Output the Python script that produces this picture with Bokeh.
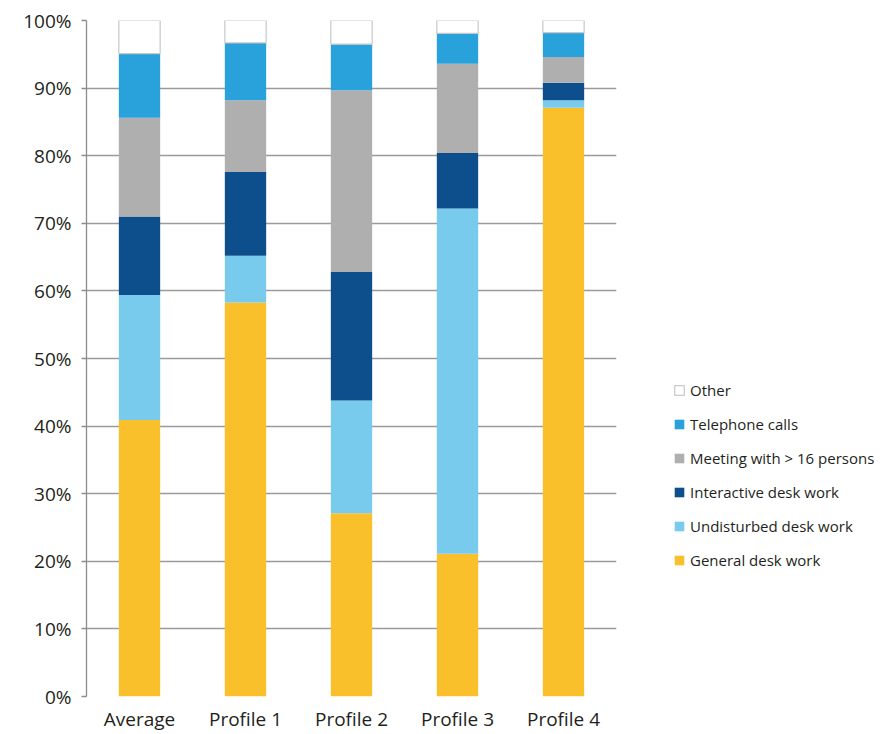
from bokeh.plotting import figure
from bokeh.layouts import row
from bokeh.models import (ColumnDataSource, Legend, LegendItem, FixedTicker,
                          CustomJSTickFormatter, Range1d)
from bokeh.embed import file_html
from bokeh.resources import INLINE

# Share of working time per activity (%), per user profile
profiles = ["Average", "Profile 1", "Profile 2", "Profile 3", "Profile 4"]
general_desk_work = [40.9, 58.3, 27.1, 21.1, 87.1]
undisturbed_desk_work = [18.5, 6.9, 16.7, 51.1, 1.1]
interactive_desk_work = [11.6, 12.4, 19.0, 8.2, 2.6]
meeting_16_plus = [14.6, 10.6, 26.9, 13.2, 3.8]
telephone_calls = [9.5, 8.5, 6.8, 4.5, 3.6]
other = [4.9, 3.3, 3.5, 1.9, 1.8]

activities = ["General desk work", "Undisturbed desk work", "Interactive desk work",
              "Meeting with > 16 persons", "Telephone calls", "Other"]
keys = ["general", "undisturbed", "interactive", "meeting", "telephone", "other"]
colors = ["#FAC02C", "#79CBEE", "#0C4F8C", "#AFAFAF", "#29A1DB", "#FFFFFF"]
outlines = [None] * 5 + ["#C8C8C8"]

source = ColumnDataSource(dict(
    profile=profiles,
    general=general_desk_work,
    undisturbed=undisturbed_desk_work,
    interactive=interactive_desk_work,
    meeting=meeting_16_plus,
    telephone=telephone_calls,
    other=other,
))

FONT = "Open Sans"
TEXT = "#231F20"

p = figure(x_range=profiles, y_range=Range1d(0, 100),
           width=630, height=734, output_backend="svg", toolbar_location=None,
           min_border_left=86, min_border_right=14, min_border_top=20,
           min_border_bottom=37, outline_line_color=None)

p.vbar_stack(keys, x="profile", width=0.39, source=source,
             color=colors, line_color=outlines, line_width=1.2)

# Grid
ticks = list(range(0, 101, 10))
p.xgrid.grid_line_color = None
p.ygrid.ticker = FixedTicker(ticks=ticks)
p.ygrid.grid_line_color = "#9A9A9A"
p.ygrid.grid_line_width = 1.3

# Y axis
p.yaxis.ticker = FixedTicker(ticks=ticks)
p.yaxis.formatter = CustomJSTickFormatter(code="return tick.toFixed(0) + '%';")
p.yaxis.axis_line_color = "#8C8C8C"
p.yaxis.axis_line_width = 1.3
p.yaxis.major_tick_line_color = "#8C8C8C"
p.yaxis.major_tick_line_width = 1.3
p.yaxis.major_tick_out = 5
p.yaxis.major_tick_in = 0
p.yaxis.minor_tick_line_color = None
p.yaxis.major_label_text_font = FONT
p.yaxis.major_label_text_font_size = "19px"
p.yaxis.major_label_text_color = TEXT
p.yaxis.major_label_standoff = 10

# X axis
p.xaxis.axis_line_color = None
p.xaxis.major_tick_line_color = None
p.xaxis.minor_tick_line_color = None
p.xaxis.major_label_text_font = FONT
p.xaxis.major_label_text_font_size = "19px"
p.xaxis.major_label_text_color = TEXT
p.xaxis.major_label_standoff = 3

# Legend panel: a bare figure holding one swatch renderer per activity
lg = figure(width=264, height=734, output_backend="svg", toolbar_location=None,
            x_range=Range1d(0, 1), y_range=Range1d(0, 1),
            x_axis_location=None, y_axis_location=None,
            min_border=0, outline_line_color=None)
lg.grid.visible = False
swatches = [lg.rect(x=[-5], y=[-5], width=0.1, height=0.1,
                    fill_color=c, line_color=lc, line_width=1.2)
            for c, lc in zip(colors, outlines)]

items = [LegendItem(label=activities[i], renderers=[swatches[i]])
         for i in reversed(range(len(keys)))]
legend = Legend(items=items, location=(43, 126),
                glyph_width=12, glyph_height=12, label_standoff=5,
                spacing=14, padding=0, margin=0,
                label_text_font=FONT, label_text_font_size="15px",
                label_text_color=TEXT, label_height=20,
                border_line_color=None, background_fill_alpha=0)
lg.add_layout(legend, "center")

open("out.html", "w").write(file_html(row(p, lg), INLINE))
